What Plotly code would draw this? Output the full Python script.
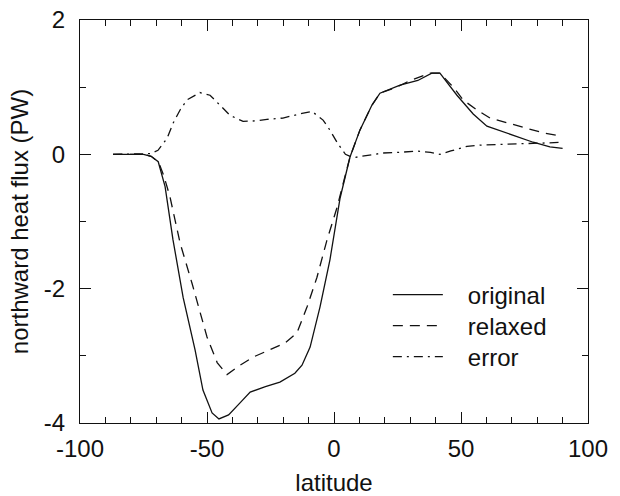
import plotly.graph_objects as go

# ---- data ----
lat_original = [-87, -75, -72, -69.2, -66.5, -63.4, -59.4, -54.7, -51.6, -48, -45.3, -41.5,
                -37, -33, -27, -21.3, -15.4, -12.6, -9.4, -5.5, -1.6, 2.4, 6.3, 10.2, 14.9,
                18.1, 26, 33, 38.5, 41.7, 48.4, 54.8, 60.2, 66, 72, 78.4, 85, 90]
val_original = [0, 0, -0.03, -0.11, -0.48, -1.27, -2.13, -2.91, -3.51, -3.85, -3.94, -3.88,
                -3.70, -3.54, -3.46, -3.39, -3.26, -3.14, -2.87, -2.27, -1.57, -0.65, -0.04, 0.36, 0.73,
                0.91, 1.03, 1.10, 1.21, 1.21, 0.88, 0.60, 0.42, 0.34, 0.26, 0.18, 0.11, 0.09]

lat_relaxed = [-87, -75, -72, -69, -67, -64.6, -60.6, -55.9, -50, -46, -42.1, -37, -31.9,
               -25.2, -19.3, -14.6, -10.6, -6.7, -2.8, 1.2, 6.3, 10.2, 14.9, 18.1, 24.7, 30,
               37.8, 41.7, 47, 50.8, 56.3, 61.4, 69.3, 76, 82.3, 90]
val_relaxed = [0, 0, -0.03, -0.12, -0.32, -0.63, -1.32, -1.92, -2.72, -3.10, -3.28, -3.14, -3.02,
               -2.91, -2.81, -2.66, -2.27, -1.83, -1.28, -0.79, -0.04, 0.36, 0.73, 0.91, 1.00, 1.10,
               1.21, 1.21, 1.00, 0.81, 0.66, 0.54, 0.46, 0.39, 0.32, 0.27]

lat_error = [-87, -75, -72, -69.3, -65.7, -63.4, -60.6, -57.9, -52.8, -48.8, -44.9, -40.9,
             -35.8, -30, -26.4, -20.1, -12.6, -8.7, -4.3, -1.6, 1.5, 4.5, 7.5, 12, 19.3, 26,
             32.7, 38, 41.7, 46, 52.4, 58.7, 70.5, 83.8, 90]
val_error = [0, 0, 0.01, 0.06, 0.24, 0.46, 0.66, 0.81, 0.92, 0.88, 0.73, 0.58,
             0.49, 0.50, 0.52, 0.54, 0.61, 0.64, 0.51, 0.36, 0.16, 0.00, -0.05, -0.02, 0.02, 0.03,
             0.05, 0.03, 0.00, 0.05, 0.12, 0.14, 0.15, 0.17, 0.18]

series_names = ["original", "relaxed", "error"]
x_ticks = [-100, -50, 0, 50, 100]
y_ticks = [-4, -2, 0, 2]

FONT = "Liberation Sans, Arial, Helvetica, sans-serif"
INK = "#111111"
PAD = "\u00a0\u00a0\u00a0"

fig = go.Figure()
fig.add_trace(go.Scatter(x=lat_original, y=val_original, mode="lines", name=PAD + series_names[0],
                         legend="legend", line=dict(color=INK, width=1.3)))
fig.add_trace(go.Scatter(x=lat_relaxed, y=val_relaxed, mode="lines", name=PAD + series_names[1],
                         legend="legend2", line=dict(color=INK, width=1.3, dash="10px,7px")))
fig.add_trace(go.Scatter(x=lat_error, y=val_error, mode="lines", name=PAD + series_names[2],
                         legend="legend3", line=dict(color=INK, width=1.3, dash="9px,5px,2px,5px")))

axis_common = dict(
    showline=True, linecolor=INK, linewidth=1.3, mirror="allticks",
    ticks="inside", ticklen=11, tickwidth=1, tickcolor=INK,
    showgrid=False, zeroline=False, automargin=False,
    tickfont=dict(family=FONT, size=24, color=INK),
    title_font=dict(family=FONT, size=24, color=INK),
)

fig.update_xaxes(range=[-100, 100], tickvals=x_ticks, ticktext=[str(v) for v in x_ticks],
                 title_text="latitude", title_standoff=14, ticklabelstandoff=4,
                 minor=dict(dtick=10, ticklen=6, ticks="inside", tickcolor=INK, tickwidth=1),
                 **axis_common)
fig.update_yaxes(range=[-4, 2], tickvals=y_ticks, ticktext=[str(v) for v in y_ticks],
                 title_text="northward heat flux (PW)", title_standoff=8, ticklabelstandoff=9,
                 minor=dict(dtick=1, ticklen=6, ticks="inside", tickcolor=INK, tickwidth=1),
                 **axis_common)

leg_common = dict(x=0.606, xanchor="left", yanchor="middle", bgcolor="rgba(0,0,0,0)",
                  borderwidth=0, itemwidth=50, font=dict(family=FONT, size=24, color=INK))

fig.update_layout(
    width=620, height=496,
    margin=dict(l=80, r=32, t=20, b=73),
    paper_bgcolor="white", plot_bgcolor="white",
    font=dict(family=FONT, size=24, color=INK),
    showlegend=True,
    legend=dict(y=0.3176, **leg_common),
    legend2=dict(y=0.2407, **leg_common),
    legend3=dict(y=0.1638, **leg_common),
)

fig.write_html("out.html")
